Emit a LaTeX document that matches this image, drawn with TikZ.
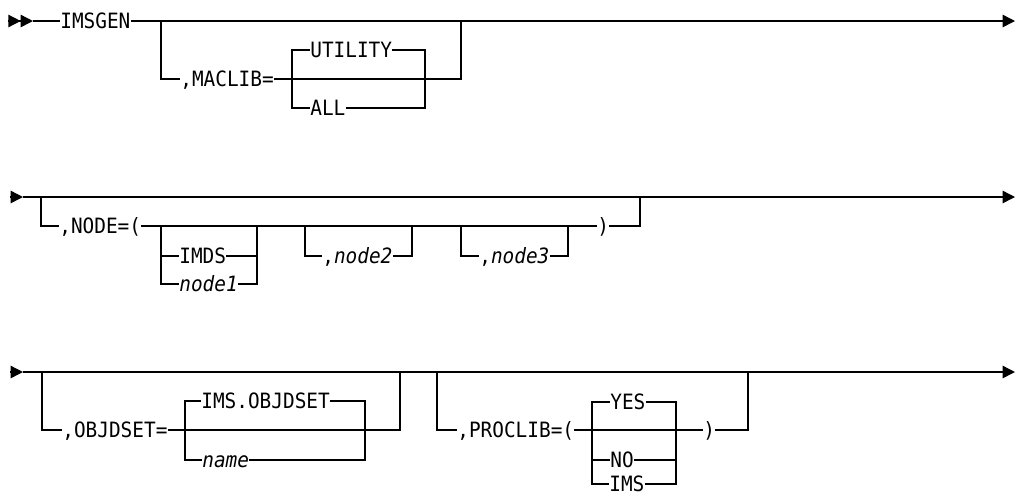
\documentclass[tikz,border=0pt]{standalone}
\usepackage{fontspec}
\newfontfamily\railfont[FakeStretch=0.92]{DejaVu Sans Mono}
\usepackage{tikz}
\usetikzlibrary{arrows.meta}

\begin{document}
\begin{tikzpicture}[
    x=0.02cm, y=-0.02cm,
    every node/.style={font=\railfont\fontsize{12pt}{14pt}\selectfont},
    kw/.style={anchor=west, inner sep=0pt, text height=8.7pt, text depth=0pt},
    var/.style={kw, font=\railfont\fontsize{12pt}{14pt}\selectfont\itshape},
    rail/.style={line width=0.8pt},
    endarrow/.style={rail, -{Triangle[length=7pt, width=7pt]}},
    dblarrow/.style={rail, -{Triangle[length=7pt, width=7pt] Triangle[length=7pt, width=7pt]}},
  ]
  \useasboundingbox (0,0) rectangle (1017,495);

  % row 1
  \coordinate (r1_s) at (8,21);
  \coordinate (r1_a) at (33,21);
  \coordinate (r1_e) at (1015,21);
  \node[kw] (imsgen) at (60,21) {IMSGEN};
  \coordinate (b1_l) at (161,21);
  \coordinate (b1_r) at (461,21);
  \node[kw] (maclib) at (180,79) {,MACLIB=};
  \coordinate (c1_l) at (292,79);
  \coordinate (c1_r) at (425,79);
  \node[kw] (utility) at (310,50) {UTILITY};
  \node[kw] (all) at (310,108) {ALL};
  \draw[dblarrow] (r1_s) -- (r1_a);
  \draw[rail] (r1_a) -- (imsgen.west);
  \draw[endarrow] (imsgen.east) -- (r1_e);
  \draw[rail] (b1_l) |- (maclib.west);
  \draw[rail] (maclib.east) -| (b1_r);
  \draw[rail] (c1_l) |- (utility.west);
  \draw[rail] (c1_l) |- (all.west);
  \draw[rail] (utility.east) -| (c1_r);
  \draw[rail] (all.east) -| (c1_r);

  % row 2
  \coordinate (r2_s) at (10,197);
  \coordinate (r2_a) at (23,197);
  \coordinate (r2_e) at (1015,197);
  \coordinate (b2_l) at (41,197);
  \coordinate (b2_r) at (640,197);
  \node[kw] (node_eq) at (59,226) {,NODE=(};
  \node[kw] (node_rp) at (597,226) {)};
  \coordinate (g1_l) at (161,226);
  \coordinate (g1_r) at (257,226);
  \node[kw] (imds) at (179,256) {IMDS};
  \node[var] (node1) at (179,284) {node1};
  \coordinate (g2_l) at (305,226);
  \coordinate (g2_r) at (412,226);
  \node[kw] (node2) at (322,256) {,\textit{node2}};
  \coordinate (g3_l) at (461,226);
  \coordinate (g3_r) at (568,226);
  \node[kw] (node3) at (479,256) {,\textit{node3}};
  \draw[endarrow] (r2_s) -- (r2_a);
  \draw[endarrow] (r2_a) -- (r2_e);
  \draw[rail] (b2_l) |- (node_eq.west);
  \draw[rail] (node_eq.east) -- (node_rp.west);
  \draw[rail] (node_rp.east) -| (b2_r);
  \draw[rail] (g1_l) |- (imds.west);
  \draw[rail] (g1_l) |- (node1.west);
  \draw[rail] (imds.east) -| (g1_r);
  \draw[rail] (node1.east) -| (g1_r);
  \draw[rail] (g2_l) |- (node2.west);
  \draw[rail] (node2.east) -| (g2_r);
  \draw[rail] (g3_l) |- (node3.west);
  \draw[rail] (node3.east) -| (g3_r);

  % row 3
  \coordinate (r3_s) at (10,372);
  \coordinate (r3_a) at (23,372);
  \coordinate (r3_e) at (1015,372);
  \coordinate (b3_l) at (42,372);
  \coordinate (b3_r) at (400,372);
  \node[kw] (objdset) at (62,430) {,OBJDSET=};
  \coordinate (c3_l) at (185,430);
  \coordinate (c3_r) at (365,430);
  \node[kw] (ims_obj) at (201,401) {IMS.OBJDSET};
  \node[var] (name) at (202,460) {name};
  \coordinate (b4_l) at (437,372);
  \coordinate (b4_r) at (748,372);
  \node[kw] (proclib) at (457,430) {,PROCLIB=(};
  \node[kw] (proc_rp) at (703,430) {)};
  \coordinate (c4_l) at (592,430);
  \coordinate (c4_r) at (676,430);
  \node[kw] (yes) at (610,402) {YES};
  \node[kw] (no) at (610,460) {NO};
  \node[kw] (ims) at (609,484) {IMS};
  \draw[endarrow] (r3_s) -- (r3_a);
  \draw[endarrow] (r3_a) -- (r3_e);
  \draw[rail] (b3_l) |- (objdset.west);
  \draw[rail] (objdset.east) -| (b3_r);
  \draw[rail] (c3_l) |- (ims_obj.west);
  \draw[rail] (c3_l) |- (name.west);
  \draw[rail] (ims_obj.east) -| (c3_r);
  \draw[rail] (name.east) -| (c3_r);
  \draw[rail] (b4_l) |- (proclib.west);
  \draw[rail] (proclib.east) -- (proc_rp.west);
  \draw[rail] (proc_rp.east) -| (b4_r);
  \draw[rail] (c4_l) |- (yes.west);
  \draw[rail] (c4_l) |- (ims.west);
  \draw[rail] (no.west) -- (c4_l |- no.west);
  \draw[rail] (yes.east) -| (c4_r);
  \draw[rail] (no.east) -| (c4_r);
  \draw[rail] (ims.east) -| (c4_r);
\end{tikzpicture}
\end{document}
